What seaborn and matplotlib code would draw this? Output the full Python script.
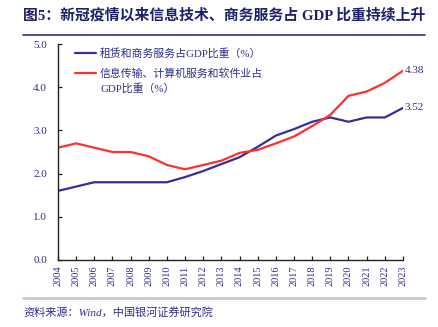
import matplotlib
matplotlib.use("Agg")
import matplotlib.pyplot as plt
import seaborn as sns
import pandas as pd

years = list(range(2004, 2024))
rental_business = [1.6, 1.7, 1.8, 1.8, 1.8, 1.8, 1.8, 1.92, 2.06, 2.22, 2.38, 2.62, 2.88, 3.03, 3.2, 3.3, 3.2, 3.3, 3.3, 3.52]
info_tech = [2.6, 2.7, 2.6, 2.5, 2.5, 2.4, 2.2, 2.1, 2.2, 2.3, 2.48, 2.55, 2.7, 2.86, 3.1, 3.36, 3.8, 3.9, 4.1, 4.38]
series_names = ["租赁和商务服务占GDP比重（%）", "信息传输、计算机服务和软件业占"]
series_name_cont = "GDP比重（%）"
title_text = "图5：新冠疫情以来信息技术、商务服务占 GDP 比重持续上升"
source_text = "资料来源：Wind，中国银河证券研究院"

sns.set_theme(style="white")
plt.rcParams["font.family"] = ["Liberation Serif", "Noto Sans CJK SC"]

navy = "#2e2e8c"
colors = {series_names[0]: "#3a2d96", series_names[1]: "#ff3030"}

df = pd.DataFrame({
    "year": years * 2,
    "value": rental_business + info_tech,
    "series": [series_names[0]] * len(years) + [series_names[1]] * len(years),
})

fig = plt.figure(figsize=(4.38, 3.27), dpi=100)
ax = fig.add_axes([0.1324, 0.2049, 0.7876, 0.6605])
sns.lineplot(data=df, x="year", y="value", hue="series", palette=colors,
             linewidth=1.6, ax=ax, legend=True)

ax.set_xlim(2004, 2023)
ax.set_ylim(0, 5)
ax.set_xticks(years)
ax.set_xticklabels([str(y) for y in years], rotation=90, fontsize=7.4, color=navy)
ax.set_yticks([0, 1, 2, 3, 4, 5])
ax.set_yticklabels([f"{v:.1f}" for v in [0, 1, 2, 3, 4, 5]], fontsize=8, color=navy)
ax.set_xlabel("")
ax.set_ylabel("")
for side in ["top", "right"]:
    ax.spines[side].set_visible(False)
for side in ["left", "bottom"]:
    ax.spines[side].set_color("#222222")
    ax.spines[side].set_linewidth(1.0)
ax.tick_params(axis="both", direction="in", length=3, width=0.9, color="#222222")
ax.tick_params(axis="y", left=True, pad=8)
ax.tick_params(axis="x", bottom=True, pad=4)

leg = ax.legend(loc="upper left", frameon=False, fontsize=7.8,
                bbox_to_anchor=(0.02, 1.025), handlelength=2.0, handletextpad=0.35,
                labelspacing=0.85)
for t in leg.get_texts():
    t.set_color(navy)

# continuation line of the second legend label, placed under its first line
fig.canvas.draw()
renderer = fig.canvas.get_renderer()
bb = leg.get_texts()[1].get_window_extent(renderer)
x0, yc = fig.transFigure.inverted().transform((bb.x0, (bb.y0 + bb.y1) / 2))
fig.text(x0, yc - 15 / 327, series_name_cont, fontsize=7.8, color=navy,
         ha="left", va="center")

ax.text(2023.1, info_tech[-1], f"{info_tech[-1]:.2f}", fontsize=8, color=navy,
        ha="left", va="center")
ax.text(2023.1, rental_business[-1], f"{rental_business[-1]:.2f}", fontsize=8, color=navy,
        ha="left", va="center")

fig.text(0.053, 0.953, title_text, fontsize=10.7, fontweight="bold", color="#1f1f6b",
         ha="left", va="center")
fig.add_artist(plt.Line2D([0.053, 0.97], [0.893, 0.893], color="#3a2d7e", linewidth=1.2,
                          transform=fig.transFigure))
fig.add_artist(plt.Line2D([0.053, 0.97], [0.088, 0.088], color="#c5c5e6", linewidth=2.0,
                          transform=fig.transFigure))
fig.text(0.053, 0.045, source_text, fontsize=8, style="italic", color="#2e2e8c",
         ha="left", va="center")

fig.savefig("out.png", dpi=100)
